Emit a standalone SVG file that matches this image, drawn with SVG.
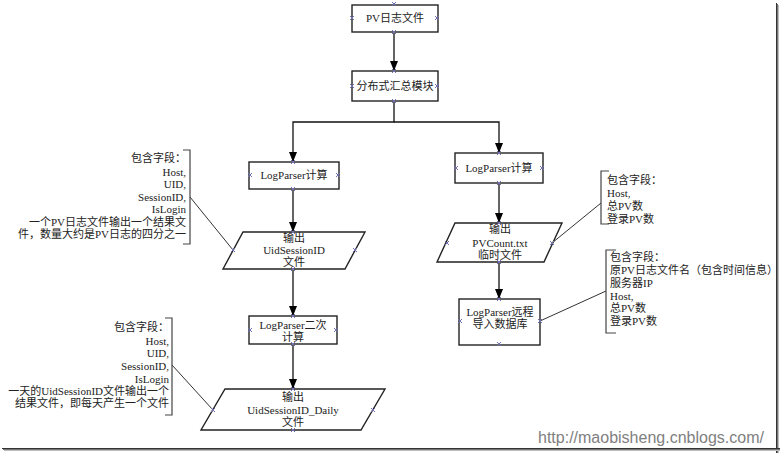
<svg xmlns="http://www.w3.org/2000/svg" xmlns:xlink="http://www.w3.org/1999/xlink" width="780" height="453" viewBox="0 0 780 453">
<defs>
<style>
.box{fill:#fff;stroke:#222;stroke-width:1.4}
.t{font-family:"Liberation Serif","Noto Sans CJK SC",serif;font-size:11px;fill:#222}
.c{text-anchor:middle}
.r{text-anchor:end}
.ln{fill:none;stroke:#111;stroke-width:1.3}
.an{fill:none;stroke:#333;stroke-width:1}
.br{fill:none;stroke:#444;stroke-width:1.2}
.xm{fill:none;stroke:#7070b0;stroke-width:1}
.wm{font-family:"Liberation Sans",Arial,sans-serif;font-size:16px;fill:#808080}
</style>
<marker id="arr" viewBox="0 0 10 8" refX="10" refY="4" markerWidth="10" markerHeight="8" markerUnits="userSpaceOnUse" orient="auto">
<path d="M0,0 L10,4 L0,8 z" fill="#000"/>
</marker>
<path id="x" class="xm" d="M-2,-2 L2,2 M-2,2 L2,-2"/>
</defs>
<rect width="780" height="453" fill="#fff"/>
<g id="frame">
<line x1="776.5" y1="3" x2="776.5" y2="453" stroke="#333" stroke-width="1"/>
<line x1="777.5" y1="4" x2="777.5" y2="453" stroke="#777" stroke-width="1"/>
<line x1="778.5" y1="5" x2="778.5" y2="453" stroke="#bbb" stroke-width="1"/>
<line x1="2" y1="448.5" x2="780" y2="448.5" stroke="#333" stroke-width="1"/>
<line x1="3" y1="449.5" x2="780" y2="449.5" stroke="#777" stroke-width="1"/>
<line x1="4" y1="450.5" x2="780" y2="450.5" stroke="#bbb" stroke-width="1"/>
</g>
<g id="connectors">
<line class="ln" x1="394" y1="32" x2="394" y2="71" marker-end="url(#arr)"/>
<polyline class="ln" points="394,101 394,122 293,122 293,162" marker-end="url(#arr)"/>
<polyline class="ln" points="394,122 499,122 499,153" marker-end="url(#arr)"/>
<line class="ln" x1="293" y1="189" x2="293" y2="232" marker-end="url(#arr)"/>
<line class="ln" x1="293" y1="269" x2="293" y2="316" marker-end="url(#arr)"/>
<line class="ln" x1="293" y1="344" x2="293" y2="389" marker-end="url(#arr)"/>
<line class="ln" x1="499" y1="183" x2="499" y2="223" marker-end="url(#arr)"/>
<line class="ln" x1="499" y1="262" x2="499" y2="299" marker-end="url(#arr)"/>
<line class="an" x1="190" y1="197" x2="233" y2="250"/>
<line class="an" x1="172" y1="365" x2="213" y2="410"/>
<line class="an" x1="601" y1="203" x2="552" y2="243"/>
<line class="an" x1="606" y1="291" x2="540" y2="321"/>
</g>
<g id="pv">
<rect class="box" x="352" y="5" width="86" height="27"/>
<text class="t c" x="395" y="22">PV日志文件</text>
<use href="#x" x="394" y="4"/><use href="#x" x="352" y="18"/><use href="#x" x="437" y="18"/><use href="#x" x="394" y="32"/>
</g>
<g id="dist">
<rect class="box" x="352" y="71" width="86" height="30"/>
<text class="t c" x="395" y="90">分布式汇总模块</text>
<use href="#x" x="394" y="71"/><use href="#x" x="352" y="86"/><use href="#x" x="437" y="86"/><use href="#x" x="394" y="101"/>
</g>
<g id="lp1">
<rect class="box" x="249" y="162" width="90" height="27"/>
<text class="t c" x="294" y="179">LogParser计算</text>
<use href="#x" x="293" y="162"/><use href="#x" x="250" y="175"/><use href="#x" x="338" y="175"/><use href="#x" x="293" y="189"/>
</g>
<g id="out1">
<polygon class="box" points="243,232 365,232 345,269 223,269"/>
<text class="t c" x="294" y="242">输出</text>
<text class="t c" x="294" y="254">UidSessionID</text>
<text class="t c" x="294" y="266">文件</text>
<use href="#x" x="293" y="232"/><use href="#x" x="233" y="250"/><use href="#x" x="355" y="250"/><use href="#x" x="293" y="269"/>
</g>
<g id="lp2">
<rect class="box" x="249" y="316" width="88" height="28"/>
<text class="t c" x="293" y="329">LogParser二次</text>
<text class="t c" x="293" y="341">计算</text>
<use href="#x" x="293" y="316"/><use href="#x" x="250" y="330"/><use href="#x" x="336" y="330"/><use href="#x" x="293" y="344"/>
</g>
<g id="out2">
<polygon class="box" points="225,389 385,389 361,430 201,430"/>
<text class="t c" x="293" y="401">输出</text>
<text class="t c" x="293" y="414">UidSessionID_Daily</text>
<text class="t c" x="293" y="426">文件</text>
<use href="#x" x="293" y="389"/><use href="#x" x="213" y="410"/><use href="#x" x="373" y="410"/><use href="#x" x="293" y="430"/>
</g>
<g id="lp3">
<rect class="box" x="455" y="153" width="88" height="30"/>
<text class="t c" x="499" y="172">LogParser计算</text>
<use href="#x" x="499" y="153"/><use href="#x" x="456" y="168"/><use href="#x" x="542" y="168"/><use href="#x" x="499" y="183"/>
</g>
<g id="out3">
<polygon class="box" points="455,223 562,223 544,262 437,262"/>
<text class="t c" x="500" y="233">输出</text>
<text class="t c" x="500" y="247">PVCount.txt</text>
<text class="t c" x="500" y="259">临时文件</text>
<use href="#x" x="499" y="223"/><use href="#x" x="447" y="243"/><use href="#x" x="552" y="243"/><use href="#x" x="499" y="262"/>
</g>
<g id="db">
<rect class="box" x="459" y="299" width="81" height="46"/>
<text class="t c" x="500" y="316">LogParser远程</text>
<text class="t c" x="500" y="328">导入数据库</text>
<use href="#x" x="499" y="299"/><use href="#x" x="460" y="321"/><use href="#x" x="540" y="321"/><use href="#x" x="499" y="344"/>
</g>
<g id="note1">
<path class="br" d="M183,150 H190 V244 H183"/>
<text class="t r" x="186" y="162">包含字段：</text>
<text class="t r" x="186" y="176">Host,</text>
<text class="t r" x="186" y="188">UID,</text>
<text class="t r" x="186" y="201">SessionID,</text>
<text class="t r" x="186" y="213">IsLogin</text>
<text class="t r" x="186" y="226">一个PV日志文件输出一个结果文</text>
<text class="t r" x="186" y="238">件，数量大约是PV日志的四分之一</text>
</g>
<g id="note2">
<path class="br" d="M165,318 H172 V415 H165"/>
<text class="t r" x="169" y="331">包含字段：</text>
<text class="t r" x="169" y="345">Host,</text>
<text class="t r" x="169" y="357">UID,</text>
<text class="t r" x="169" y="370">SessionID,</text>
<text class="t r" x="169" y="383">IsLogin</text>
<text class="t r" x="169" y="395">一天的UidSessionID文件输出一个</text>
<text class="t r" x="169" y="407">结果文件，即每天产生一个文件</text>
</g>
<g id="note3">
<path class="br" d="M609,171 H601 V224 H609"/>
<text class="t" x="607" y="184">包含字段：</text>
<text class="t" x="607" y="197">Host,</text>
<text class="t" x="607" y="210">总PV数</text>
<text class="t" x="607" y="223">登录PV数</text>
</g>
<g id="note4">
<path class="br" d="M616,250 H606 V333 H616"/>
<text class="t" x="610" y="261">包含字段：</text>
<text class="t" x="610" y="274">原PV日志文件名（包含时间信息）</text>
<text class="t" x="610" y="287">服务器IP</text>
<text class="t" x="610" y="300">Host,</text>
<text class="t" x="610" y="312">总PV数</text>
<text class="t" x="610" y="325">登录PV数</text>
</g>
<text class="wm" x="538" y="443">http://maobisheng.cnblogs.com/</text>
</svg>
